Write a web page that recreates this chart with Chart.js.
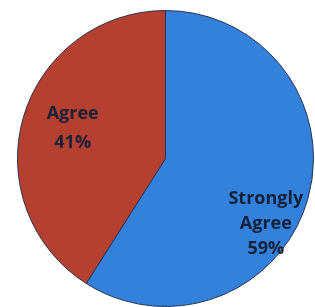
<!DOCTYPE html>
<html>
<head>
<meta charset="utf-8">
<script src="https://cdn.jsdelivr.net/npm/chart.js@4/dist/chart.umd.min.js"></script>
<style>
  html, body { margin: 0; padding: 0; background: #ffffff; overflow: hidden; }
  body { width: 315px; height: 307px; position: relative; }
  #wrap { position: absolute; left: 17px; top: 10px; width: 297px; height: 297px; }
</style>
</head>
<body>
<div id="wrap"><canvas id="c" width="297" height="297"></canvas></div>
<script>
const categories = ["Strongly Agree", "Agree"];
const labelLines = [["Strongly", "Agree", "59%"], ["Agree", "41%"]];
const values = [59, 41];
const colors = ["#3281dc", "#b5402f"];

const labelPlugin = {
  id: 'sliceLabels',
  afterDatasetsDraw(chart, args, opts) {
    const ctx = chart.ctx;
    const meta = chart.getDatasetMeta(0);
    ctx.save();
    ctx.font = opts.font;
    ctx.fillStyle = opts.color;
    ctx.textAlign = 'center';
    ctx.textBaseline = 'middle';
    meta.data.forEach((arc, i) => {
      const p = arc.getProps(['x', 'y', 'startAngle', 'endAngle', 'outerRadius'], true);
      const mid = (p.startAngle + p.endAngle) / 2 + opts.angleOffset[i] * Math.PI / 180;
      const r = p.outerRadius * opts.radiusFrac[i];
      const cx = p.x + Math.cos(mid) * r;
      const cy = p.y + Math.sin(mid) * r;
      const lines = labelLines[i];
      const lh = opts.lineHeight[i];
      lines.forEach((t, k) => {
        ctx.fillText(t, cx, cy + (k - (lines.length - 1) / 2) * lh);
      });
    });
    ctx.restore();
  }
};

new Chart(document.getElementById('c'), {
  type: 'pie',
  data: {
    labels: categories,
    datasets: [{
      data: values,
      backgroundColor: colors,
      borderColor: '#2b3350',
      borderWidth: 1
    }]
  },
  options: {
    responsive: false,
    animation: false,
    layout: { padding: 0 },
    plugins: {
      legend: { display: false },
      tooltip: { enabled: false },
      sliceLabels: {
        font: 'bold 18px "Open Sans", sans-serif',
        color: '#18213a',
        lineHeight: [25, 29],
        radiusFrac: [0.81, 0.66],
        angleOffset: [17, 2]
      }
    }
  },
  plugins: [labelPlugin]
});
</script>
</body>
</html>
